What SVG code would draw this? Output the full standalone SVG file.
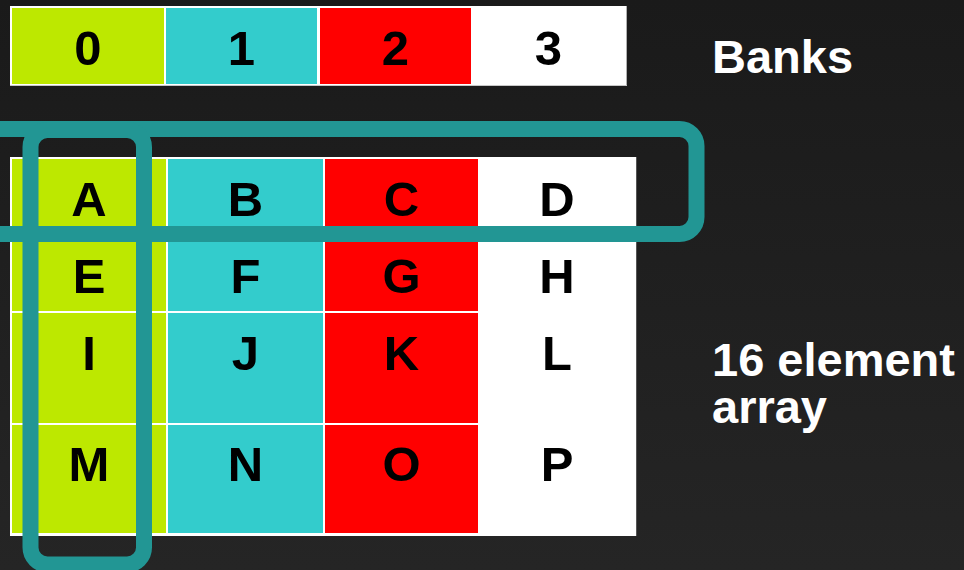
<svg xmlns="http://www.w3.org/2000/svg" width="964" height="570" viewBox="0 0 964 570">
<defs>
<linearGradient id="bg" x1="0" y1="0" x2="0" y2="1">
<stop offset="0" stop-color="#1a1a1a"/>
<stop offset="1" stop-color="#252525"/>
</linearGradient>
</defs>
<style>
.g{fill:#bde800}.c{fill:#33cccc}.r{fill:#ff0000}.w{fill:#ffffff}
.t{font-family:"Liberation Sans",Arial,sans-serif;font-weight:bold;font-size:49px;fill:#000;text-anchor:middle}
.lbl{font-family:"Liberation Sans",Arial,sans-serif;font-weight:bold;font-size:47px;fill:#fff}
.hl{fill:none;stroke:#229694;stroke-width:16}
</style>
<rect width="964" height="570" fill="url(#bg)"/>
<g id="banks">
<rect x="10" y="6" width="617" height="80" class="w"/>
<line x1="626.5" y1="6" x2="626.5" y2="86" stroke="#b0b0b0" stroke-width="1"/>
<line x1="10" y1="85.5" x2="627" y2="85.5" stroke="#c8c8c8" stroke-width="1"/>
<g id="bank0"><rect x="12" y="8" width="152" height="76" class="g"/><text x="88" y="65" class="t">0</text></g>
<g id="bank1"><rect x="166" y="8" width="151" height="76" class="c"/><text x="241.5" y="65" class="t">1</text></g>
<g id="bank2"><rect x="320" y="8" width="151" height="76" class="r"/><text x="395.5" y="65" class="t">2</text></g>
<g id="bank3"><rect x="472" y="8" width="154" height="76" class="w"/><text x="548.5" y="65" class="t">3</text></g>
</g>
<g id="array">
<rect x="10" y="157" width="626" height="379" class="w"/>
<line x1="636.5" y1="157" x2="636.5" y2="536" stroke="#555" stroke-width="1"/>
<g id="cA"><rect x="12" y="159" width="154" height="74" class="g"/><text x="89" y="216" class="t">A</text></g>
<g id="cB"><rect x="168" y="159" width="155" height="74" class="c"/><text x="245.5" y="216" class="t">B</text></g>
<g id="cC"><rect x="325" y="159" width="153" height="74" class="r"/><text x="401.5" y="216" class="t">C</text></g>
<g id="cD"><rect x="478" y="159" width="158" height="74" class="w"/><text x="557" y="216" class="t">D</text></g>
<g id="cE"><rect x="12" y="235" width="154" height="76" class="g"/><text x="89" y="293" class="t">E</text></g>
<g id="cF"><rect x="168" y="235" width="155" height="76" class="c"/><text x="245.5" y="293" class="t">F</text></g>
<g id="cG"><rect x="325" y="235" width="153" height="76" class="r"/><text x="401.5" y="293" class="t">G</text></g>
<g id="cH"><rect x="478" y="235" width="158" height="76" class="w"/><text x="557" y="293" class="t">H</text></g>
<g id="cI"><rect x="12" y="313" width="154" height="110" class="g"/><text x="89" y="370" class="t">I</text></g>
<g id="cJ"><rect x="168" y="313" width="155" height="110" class="c"/><text x="245.5" y="370" class="t">J</text></g>
<g id="cK"><rect x="325" y="313" width="153" height="110" class="r"/><text x="401.5" y="370" class="t">K</text></g>
<g id="cL"><rect x="478" y="313" width="158" height="110" class="w"/><text x="557" y="370" class="t">L</text></g>
<g id="cM"><rect x="12" y="425" width="154" height="108" class="g"/><text x="89" y="481" class="t">M</text></g>
<g id="cN"><rect x="168" y="425" width="155" height="108" class="c"/><text x="245.5" y="481" class="t">N</text></g>
<g id="cO"><rect x="325" y="425" width="153" height="108" class="r"/><text x="401.5" y="481" class="t">O</text></g>
<g id="cP"><rect x="478" y="425" width="158" height="108" class="w"/><text x="557" y="481" class="t">P</text></g>
</g>
<g id="highlights">
<rect x="-60" y="129" width="756.5" height="105" rx="17" class="hl"/>
<rect x="30.5" y="130" width="113.5" height="434.5" rx="17" class="hl"/>
</g>
<g id="labels">
<text x="712" y="72.5" class="lbl">Banks</text>
<text x="712" y="376" class="lbl"><tspan x="712" y="376">16 element</tspan><tspan x="712" y="423">array</tspan></text>
</g>
</svg>
